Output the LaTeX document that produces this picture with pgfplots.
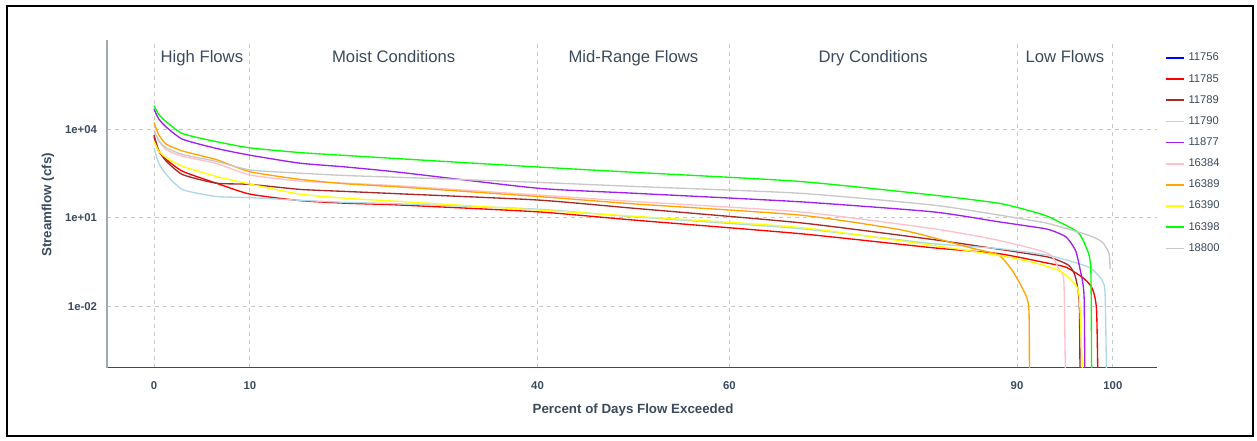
\documentclass[border=0pt]{standalone}
\usepackage{fontspec}
\setmainfont{Liberation Sans}
\usepackage{pgfplots}
\pgfplotsset{compat=1.18}
\definecolor{textcol}{RGB}{59,74,92}
\definecolor{yaxcol}{RGB}{160,168,176}
\definecolor{gridcol}{RGB}{200,200,200}
\definecolor{colA}{RGB}{0,0,255}
\definecolor{colB}{RGB}{255,0,0}
\definecolor{colC}{RGB}{165,42,42}
\definecolor{colD}{RGB}{173,216,230}
\definecolor{colE}{RGB}{160,32,240}
\definecolor{colF}{RGB}{255,192,203}
\definecolor{colG}{RGB}{255,165,0}
\definecolor{colH}{RGB}{255,255,0}
\definecolor{colI}{RGB}{0,255,0}
\definecolor{colJ}{RGB}{200,200,200}
\begin{document}
\begin{tikzpicture}
\path[use as bounding box] (-80.25pt,-54.225pt) rectangle (862.5pt,275.775pt);
\begin{axis}[
  scale only axis,
  width=787.5pt, height=245.8pt,
  ymode=log,
  xmin=-4.9, xmax=104.6,
  ymin=8.13e-5, ymax=1.07e7,
  xtick={0,10,40,60,90,100},
  xticklabels={0,10,40,60,90,100},
  ytick={0.01,10,10000},
  yticklabels={1e-02,1e+01,1e+04},
  major tick length=0pt,
  minor tick num=0,
  yminorticks=false,
  grid=major,
  major grid style={gridcol, dashed, line width=0.6pt},
  axis x line*=bottom, axis y line*=left,
  x axis line style={-, textcol, line width=1.1pt},
  y axis line style={-, yaxcol, line width=1.4pt},
  tick label style={font=\fontsize{8.5}{10}\selectfont\bfseries, text=textcol},
  xticklabel style={anchor=center, yshift=-13.75pt},
  yticklabel style={anchor=east, xshift=-4pt},
  xlabel={Percent of Days Flow Exceeded},
  ylabel={Streamflow (cfs)},
  label style={font=\fontsize{10}{12}\selectfont\bfseries, text=textcol},
  xlabel style={at={(axis description cs:0.501,-0.129)}, anchor=center},
  ylabel style={at={(axis description cs:-0.0562,0.4965)}, anchor=center, rotate=0},
  legend style={at={(axis description cs:1.0065,0.973)}, anchor=north west, draw=none,
    font=\fontsize{8.4}{10}\selectfont, text=textcol, row sep=4.5pt, inner sep=1pt,
    nodes={inner xsep=2.5pt}},
  legend cell align=left,
  legend image code/.code={\draw[#1, line width=1.3pt] (0pt,0pt) -- (13.5pt,0pt);},
  clip=true,
  every axis plot/.append style={line width=1pt, smooth, tension=0.35},
]
\addlegendimage{colA}
\addlegendentry{11756}
% 11785 red
\addplot[colB] coordinates {(0,5620)(0.5,1800)(1.3,933)(3,372)(6.5,148)(10,63.1)(15.2,38.0)(20,30.9)(25.6,26.9)(40,15.8)(50,8.32)(67.3,2.88)(81.2,0.955)(88.1,0.603)(93.3,0.282)(95.1,0.209)(96.8,0.0955)(97.8,0.0427)(98.3,0.00692)(98.5,1e-6)};
\addlegendentry{11785}
% 11789 brown
\addplot[colC] coordinates {(0,6310)(0.5,1900)(1.3,813)(3,288)(6.5,148)(10,135)(15.2,91.2)(20,77.6)(25.6,64.6)(40,39.8)(50,20.9)(67.3,6.76)(81.2,1.82)(88.1,0.851)(93.3,0.457)(95.4,0.240)(96.1,0.0955)(96.5,0.0102)(96.6,1e-6)};
\addlegendentry{11789}
% 11790 light blue
\addplot[colD] coordinates {(0,2340)(0.5,700)(1.3,288)(3,89.1)(6.5,52.5)(10,47.9)(15.2,38.9)(20,33.1)(25.6,29.5)(40,19.5)(50,10.7)(67.3,4.27)(81.2,1.32)(88.1,0.891)(93.3,0.525)(97.5,0.209)(98.9,0.0724)(99.2,0.0195)(99.4,1e-6)};
\addlegendentry{11790}
% 11877 purple
\addplot[colE] coordinates {(0,47900)(0.5,22400)(1.3,11700)(3,4570)(6.5,2240)(10,1320)(15.2,708)(20,525)(25.6,347)(40,100)(50,67.6)(67.3,34.7)(81.2,15.8)(88.1,7.24)(91.25,5.13)(93.3,3.98)(95.1,2.24)(96.1,0.776)(96.6,0.162)(97.0,0.0195)(97.1,1e-6)};
\addlegendentry{11877}
% 16384 pink
\addplot[colF] coordinates {(0,9550)(0.5,4200)(1.3,2000)(3,1200)(6.5,692)(10,282)(15.2,174)(20,148)(25.6,120)(40,58.9)(50,35.5)(67.3,15.8)(81.2,4.27)(88.1,1.70)(93.3,0.603)(94.4,0.162)(94.9,0.0562)(95.1,1e-6)};
\addlegendentry{16384}
% 16389 orange
\addplot[colG] coordinates {(0,17000)(0.5,6500)(1.3,3090)(3,1820)(6.5,933)(10,363)(15.2,200)(20,141)(25.6,110)(40,52.5)(50,29.5)(67.3,12.3)(77.7,3.98)(82.9,1.51)(85.5,0.891)(88.1,0.537)(89.5,0.162)(90.7,0.0331)(91.25,0.00692)(91.3,1e-6)};
\addlegendentry{16389}
% 16390 yellow
\addplot[colH] coordinates {(0,3980)(0.5,1800)(1.3,1070)(3,550)(6.5,251)(10,138)(15.2,63.1)(20,45.7)(25.6,35.5)(40,18.2)(50,11.2)(67.3,4.68)(81.2,1.15)(88.1,0.525)(91.6,0.309)(94.4,0.162)(95.7,0.0724)(96.5,0.0195)(97.0,1e-6)};
\addlegendentry{16390}
% 16398 green
\addplot[colI] coordinates {(0,63100)(0.5,31600)(1.3,17800)(3,7080)(6.5,3800)(10,2340)(15.2,1620)(20,1290)(25.6,1000)(40,525)(50,347)(67.3,170)(81.2,58.9)(88.1,30.9)(91.25,17.4)(93.3,10.7)(96.3,3.31)(97.2,1.0)(97.7,0.162)(97.8,1e-6)};
\addlegendentry{16398}
% 18800 gray
\addplot[colJ] coordinates {(0,8710)(0.5,4000)(1.3,2340)(3,1380)(6.5,813)(10,417)(15.2,324)(20,269)(25.6,234)(40,158)(50,115)(67.3,67.6)(81.2,26.9)(88.1,12.3)(91.25,8.32)(93.3,6.31)(97.5,2.51)(98.9,1.48)(99.6,0.603)(99.7,0.182)};
\addlegendentry{18800}
\tikzset{region/.style={font=\fontsize{12.5}{14}\selectfont, text=textcol, anchor=base, inner sep=0pt}}
\node[region] at (axis cs:5,1.78e6) {High Flows};
\node[region] at (axis cs:25,1.78e6) {Moist Conditions};
\node[region] at (axis cs:50,1.78e6) {Mid-Range Flows};
\node[region] at (axis cs:75,1.78e6) {Dry Conditions};
\node[region] at (axis cs:95,1.78e6) {Low Flows};
\end{axis}
\draw[black, line width=1.5pt] (-75pt,-51.225pt) rectangle (859.5pt,271.275pt);
\end{tikzpicture}
\end{document}
